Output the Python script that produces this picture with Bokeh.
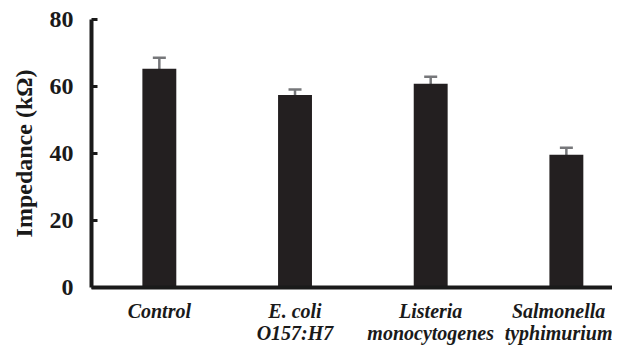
from bokeh.plotting import figure
from bokeh.models import ColumnDataSource, Range1d, Whisker, TeeHead, FixedTicker
from bokeh.embed import file_html
from bokeh.resources import INLINE

# ---- data ----
categories = ["Control", "E. coli\nO157:H7", "Listeria\nmonocytogenes", "Salmonella\ntyphimurium"]
impedance = [65.3, 57.5, 60.8, 39.6]
error = [3.3, 1.6, 2.1, 2.1]
y_ticks = [0, 20, 40, 60, 80]

xpos = list(range(len(categories)))
src = ColumnDataSource(dict(
    x=xpos,
    top=impedance,
    upper=[v + e for v, e in zip(impedance, error)],
    lower=[v - e for v, e in zip(impedance, error)],
))

p = figure(width=612, height=346, output_backend="svg", toolbar_location=None,
           x_range=Range1d(-0.5, 3.34), y_range=Range1d(0, 80),
           min_border_left=91, min_border_right=0, min_border_top=19, min_border_bottom=40)
p.outline_line_color = None
p.xgrid.visible = False
p.ygrid.visible = False
p.background_fill_color = "white"
p.border_fill_color = "white"

p.vbar(x="x", top="top", width=0.25, source=src, fill_color="#231f20", line_color=None)

w = Whisker(base="x", upper="upper", lower="lower", source=src,
            line_color="#76777a", line_width=2.5,
            upper_head=TeeHead(size=13, line_color="#76777a", line_width=2.5),
            lower_head=TeeHead(size=13, line_color="#76777a", line_width=2.5))
p.add_layout(w)

# y axis
yax = p.yaxis[0]
yax.ticker = FixedTicker(ticks=y_ticks)
yax.axis_line_width = 4
yax.axis_line_color = "#1a1a1a"
yax.major_tick_line_width = 3
yax.major_tick_line_color = "#1a1a1a"
yax.major_tick_in = 6
yax.major_tick_out = 0
yax.minor_tick_line_color = None
yax.major_label_text_font = "Liberation Serif"
yax.major_label_text_font_style = "bold"
yax.major_label_text_font_size = "24px"
yax.major_label_text_color = "#1a1a1a"
yax.major_label_standoff = 18
yax.axis_label = "Impedance (kΩ)"
yax.axis_label_text_font = "Liberation Serif"
yax.axis_label_text_font_style = "bold"
yax.axis_label_text_font_size = "24px"
yax.axis_label_text_color = "#1a1a1a"
yax.axis_label_standoff = 10

# x axis
xax = p.xaxis[0]
xax.ticker = FixedTicker(ticks=xpos)
xax.major_label_overrides = {float(i): c for i, c in zip(xpos, categories)}
xax.axis_line_width = 4
xax.axis_line_color = "#1a1a1a"
xax.major_tick_line_color = None
xax.major_tick_in = 0
xax.major_tick_out = 0
xax.minor_tick_line_color = None
xax.major_label_text_font = "Liberation Serif"
xax.major_label_text_font_style = "bold italic"
xax.major_label_text_font_size = "20px"
xax.major_label_text_color = "#1a1a1a"
xax.major_label_standoff = 12
xax.major_label_text_line_height = 1.0

open("out.html", "w").write(file_html(p, INLINE))
